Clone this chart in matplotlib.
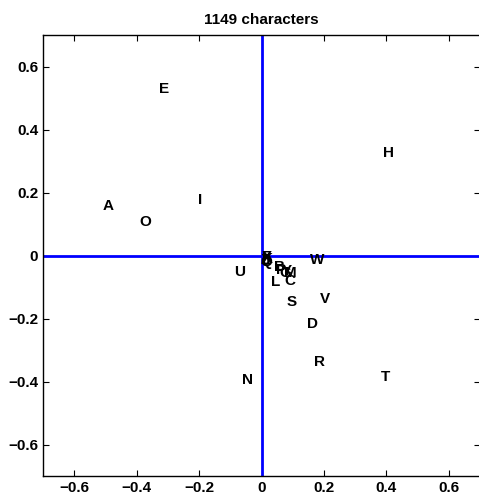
import matplotlib
matplotlib.use('Agg')
import matplotlib.pyplot as plt

plt.rcParams['font.family'] = ['Liberation Sans', 'DejaVu Sans']
plt.rcParams['font.weight'] = 'bold'

# 字母及其坐标
letters = ['E', 'H', 'A', 'O', 'I', 'U', 'W', 'R', 'T', 'N', 'D', 'V', 'S',
           'L', 'C', 'B', 'G', 'M', 'P', 'Y', 'F', 'J', 'K', 'Q', 'X', 'Z']
xs = [-0.312, 0.408, -0.490, -0.372, -0.198, -0.071, 0.179, 0.187, 0.397, -0.044, 0.162, 0.204, 0.097,
      0.045, 0.090, 0.057, 0.077, 0.093, 0.062, 0.082, 0.016, 0.014, 0.018, 0.015, 0.017, 0.013]
ys = [0.527, 0.326, 0.157, 0.105, 0.176, -0.051, -0.013, -0.339, -0.387, -0.396, -0.217, -0.137, -0.147,
      -0.085, -0.082, -0.036, -0.055, -0.055, -0.045, -0.050, -0.006, -0.018, -0.010, -0.020, -0.004, -0.014]

ticks = [-0.6, -0.4, -0.2, 0, 0.2, 0.4, 0.6]
tick_labels = ['\u22120.6', '\u22120.4', '\u22120.2', '0', '0.2', '0.4', '0.6']

fig = plt.figure(figsize=(4.79, 4.96), dpi=100)
ax = fig.add_axes([43 / 479, 20 / 496, 437 / 479, 441 / 496])

ax.axhline(0, color='#0000ff', linewidth=2)
ax.axvline(0, color='#0000ff', linewidth=2)

for s, x, y in zip(letters, xs, ys):
    ax.text(x, y, s, ha='center', va='center', fontsize=11, fontweight='bold')

ax.set_xlim(-0.7, 0.7)
ax.set_ylim(-0.7, 0.7)
ax.set_xticks(ticks)
ax.set_xticklabels(tick_labels)
ax.set_yticks(ticks)
ax.set_yticklabels(tick_labels)
ax.tick_params(direction='in', top=True, right=True, labelsize=11, length=4)
for sp in ax.spines.values():
    sp.set_linewidth(1)
ax.set_title('1149 characters', fontsize=11, fontweight='bold', pad=8)

fig.savefig('out.png', dpi=100)
